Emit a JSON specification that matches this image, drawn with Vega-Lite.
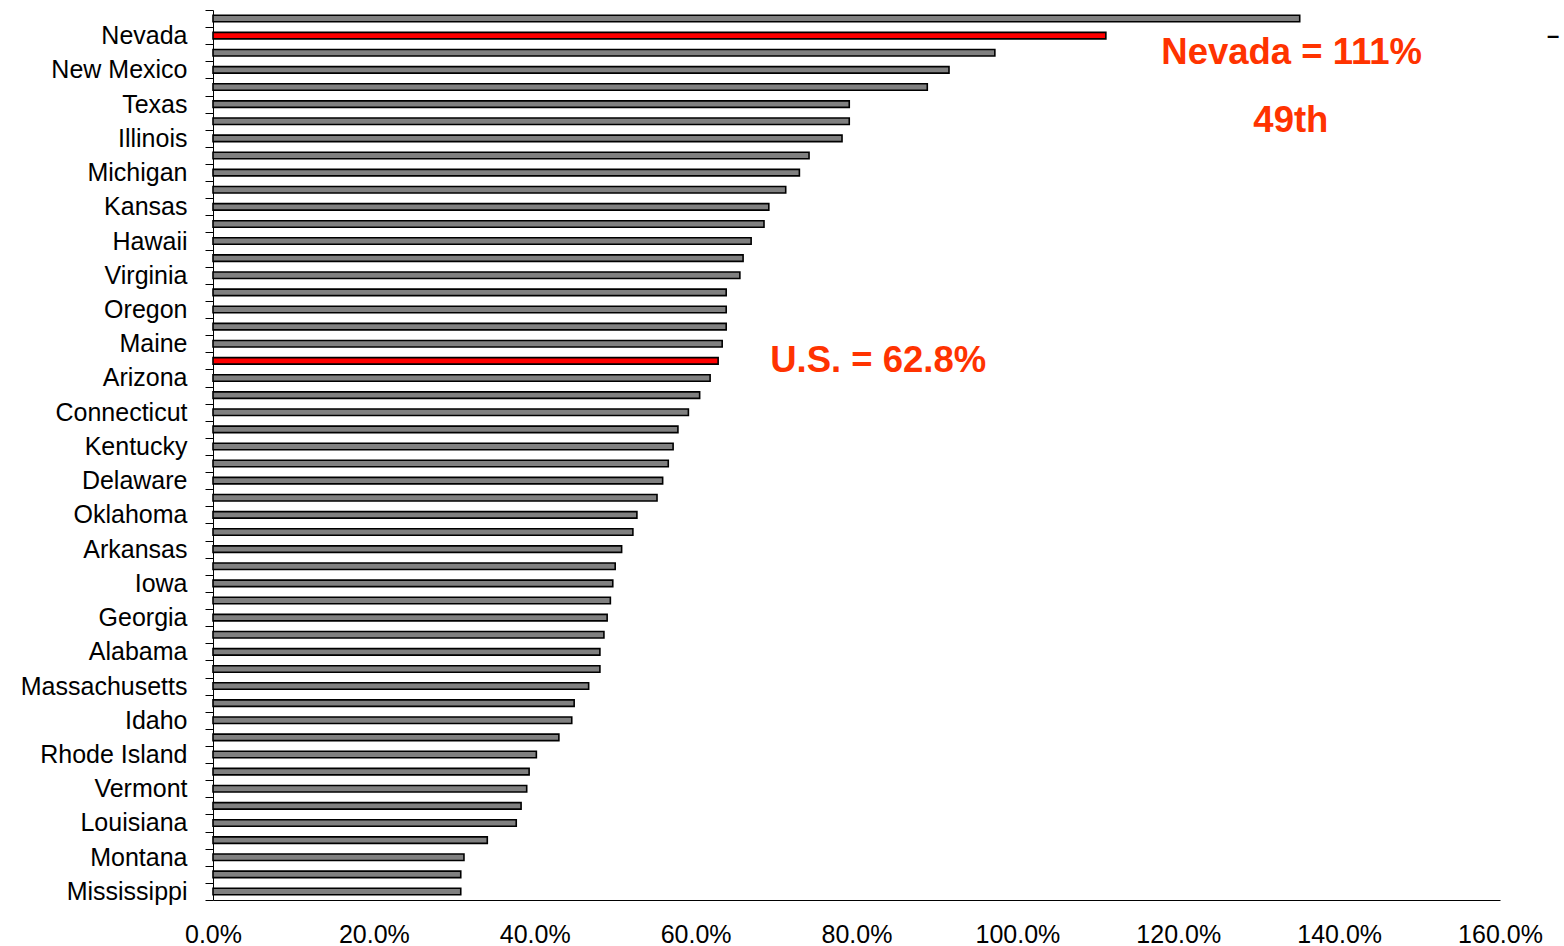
{
  "$schema": "https://vega.github.io/schema/vega-lite/v6.json",
  "width": 1287,
  "height": 890,
  "autosize": {"type": "none"},
  "padding": {"left": 213, "top": 10, "right": 64, "bottom": 46},
  "background": "white",
  "config": {"view": {"stroke": null}, "font": "Liberation Sans"},
  "resolve": {"scale": {"color": "independent"}},
  "datasets": {
    "bars": [
      {"state": "Wyoming", "pct": 135.1, "group": "state"},
      {"state": "Nevada", "pct": 111.0, "group": "highlight"},
      {"state": "Alaska", "pct": 97.2, "group": "state"},
      {"state": "New Mexico", "pct": 91.5, "group": "state"},
      {"state": "North Dakota", "pct": 88.8, "group": "state"},
      {"state": "Texas", "pct": 79.1, "group": "state"},
      {"state": "Colorado", "pct": 79.1, "group": "state"},
      {"state": "Illinois", "pct": 78.2, "group": "state"},
      {"state": "Utah", "pct": 74.1, "group": "state"},
      {"state": "Michigan", "pct": 72.9, "group": "state"},
      {"state": "New Jersey", "pct": 71.2, "group": "state"},
      {"state": "Kansas", "pct": 69.1, "group": "state"},
      {"state": "California", "pct": 68.5, "group": "state"},
      {"state": "Hawaii", "pct": 66.9, "group": "state"},
      {"state": "Washington", "pct": 65.9, "group": "state"},
      {"state": "Virginia", "pct": 65.5, "group": "state"},
      {"state": "Maryland", "pct": 63.8, "group": "state"},
      {"state": "Oregon", "pct": 63.8, "group": "state"},
      {"state": "New York", "pct": 63.8, "group": "state"},
      {"state": "Maine", "pct": 63.3, "group": "state"},
      {"state": "U.S.", "pct": 62.8, "group": "highlight"},
      {"state": "Arizona", "pct": 61.8, "group": "state"},
      {"state": "Florida", "pct": 60.5, "group": "state"},
      {"state": "Connecticut", "pct": 59.1, "group": "state"},
      {"state": "Minnesota", "pct": 57.8, "group": "state"},
      {"state": "Kentucky", "pct": 57.2, "group": "state"},
      {"state": "Wisconsin", "pct": 56.6, "group": "state"},
      {"state": "Delaware", "pct": 55.9, "group": "state"},
      {"state": "Ohio", "pct": 55.2, "group": "state"},
      {"state": "Oklahoma", "pct": 52.7, "group": "state"},
      {"state": "Pennsylvania", "pct": 52.2, "group": "state"},
      {"state": "Arkansas", "pct": 50.8, "group": "state"},
      {"state": "Nebraska", "pct": 50.0, "group": "state"},
      {"state": "Iowa", "pct": 49.7, "group": "state"},
      {"state": "Indiana", "pct": 49.4, "group": "state"},
      {"state": "Georgia", "pct": 49.0, "group": "state"},
      {"state": "North Carolina", "pct": 48.6, "group": "state"},
      {"state": "Alabama", "pct": 48.1, "group": "state"},
      {"state": "Missouri", "pct": 48.1, "group": "state"},
      {"state": "Massachusetts", "pct": 46.7, "group": "state"},
      {"state": "Tennessee", "pct": 44.9, "group": "state"},
      {"state": "Idaho", "pct": 44.6, "group": "state"},
      {"state": "South Carolina", "pct": 43.0, "group": "state"},
      {"state": "Rhode Island", "pct": 40.2, "group": "state"},
      {"state": "South Dakota", "pct": 39.3, "group": "state"},
      {"state": "Vermont", "pct": 39.0, "group": "state"},
      {"state": "West Virginia", "pct": 38.3, "group": "state"},
      {"state": "Louisiana", "pct": 37.7, "group": "state"},
      {"state": "New Hampshire", "pct": 34.1, "group": "state"},
      {"state": "Montana", "pct": 31.2, "group": "state"},
      {"state": "District of Columbia", "pct": 30.8, "group": "state"},
      {"state": "Mississippi", "pct": 30.8, "group": "state"}
    ],
    "notes": [
      {"text": "Nevada = 111%", "pct": 134.1, "state": "Alaska"},
      {"text": "49th", "pct": 134.0, "state": "Colorado"},
      {"text": "U.S. = 62.8%", "pct": 82.7, "state": "U.S."}
    ],
    "marker": [
      {"text": "–", "pct": 166.6, "state": "Nevada"}
    ]
  },
  "layer": [
    {
      "data": {"name": "bars"},
      "mark": {"type": "bar", "size": 6.5, "stroke": "black", "strokeWidth": 1.6},
      "encoding": {
        "y": {
          "field": "state",
          "type": "nominal",
          "sort": null,
          "scale": {"paddingInner": 0, "paddingOuter": 0},
          "axis": {
            "title": null,
            "domain": true,
            "domainColor": "black",
            "domainWidth": 1,
            "ticks": true,
            "tickBand": "extent",
            "tickColor": "black",
            "tickSize": 8,
            "tickWidth": 1,
            "labelPadding": 18,
            "labelFontSize": 25,
            "labelColor": "black",
            "labelFont": "Liberation Sans",
            "labelOverlap": false,
            "labelExpr": "indexof(['Nevada','New Mexico','Texas','Illinois','Michigan','Kansas','Hawaii','Virginia','Oregon','Maine','Arizona','Connecticut','Kentucky','Delaware','Oklahoma','Arkansas','Iowa','Georgia','Alabama','Massachusetts','Idaho','Rhode Island','Vermont','Louisiana','Montana','Mississippi'], datum.value) >= 0 ? datum.value : ''"
          }
        },
        "x": {
          "field": "pct",
          "type": "quantitative",
          "scale": {"domain": [0, 160], "nice": false},
          "axis": {
            "title": null,
            "values": [0, 20, 40, 60, 80, 100, 120, 140, 160],
            "grid": false,
            "ticks": false,
            "domainColor": "black",
            "domainWidth": 1,
            "labelPadding": 22,
            "labelFontSize": 25,
            "labelColor": "black",
            "labelFont": "Liberation Sans",
            "labelOverlap": false,
            "labelFlush": false,
            "labelExpr": "format(datum.value, '.1f') + '%'"
          }
        },
        "color": {
          "field": "group",
          "type": "nominal",
          "scale": {"domain": ["state", "highlight"], "range": ["#808080", "#FF0000"]},
          "legend": null
        }
      }
    },
    {
      "data": {"name": "notes"},
      "mark": {"type": "text", "fontSize": 36.5, "fontWeight": "bold", "font": "Liberation Sans", "align": "center", "baseline": "middle", "color": "#FF3300"},
      "encoding": {
        "y": {"field": "state", "type": "nominal", "sort": null},
        "x": {"field": "pct", "type": "quantitative"},
        "text": {"field": "text"}
      }
    },
    {
      "data": {"name": "marker"},
      "mark": {"type": "text", "fontSize": 22, "fontWeight": "bold", "font": "Liberation Sans", "align": "center", "baseline": "middle", "color": "#000000"},
      "encoding": {
        "y": {"field": "state", "type": "nominal", "sort": null},
        "x": {"field": "pct", "type": "quantitative"},
        "text": {"field": "text"}
      }
    }
  ]
}
